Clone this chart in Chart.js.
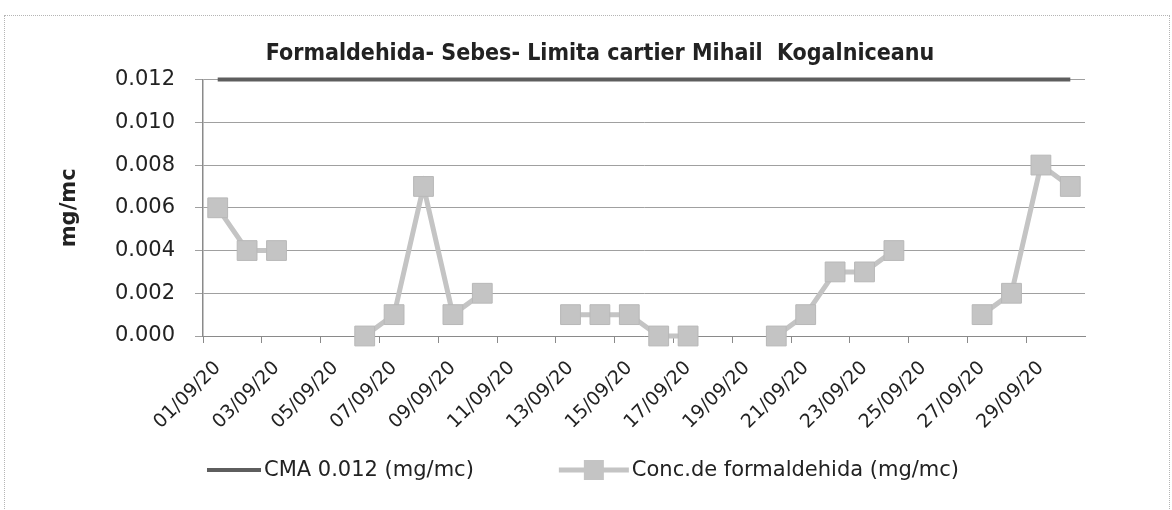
<!DOCTYPE html>
<html>
<head>
<meta charset="utf-8">
<script src="https://cdn.jsdelivr.net/npm/chart.js@4/dist/chart.umd.min.js"></script>
<style>
  html, body { margin: 0; padding: 0; background: #fff; }
  #wrap { position: relative; width: 1172px; height: 510px; }
  #frame { position: absolute; left: 4px; top: 15px; width: 1166px; height: 500px; border: 1px dotted #b5b5b5; box-sizing: border-box; }
  canvas { position: absolute; left: 0; top: 0; }
</style>
</head>
<body>
<div id="wrap">
  <div id="frame"></div>
  <canvas id="chart" width="1172" height="510"></canvas>
</div>
<script>
// --- DATA ---
const dates = [
    '01/09/20', '02/09/20', '03/09/20', '04/09/20', '05/09/20', '06/09/20',
    '07/09/20', '08/09/20', '09/09/20', '10/09/20', '11/09/20', '12/09/20',
    '13/09/20', '14/09/20', '15/09/20', '16/09/20', '17/09/20', '18/09/20',
    '19/09/20', '20/09/20', '21/09/20', '22/09/20', '23/09/20', '24/09/20',
    '25/09/20', '26/09/20', '27/09/20', '28/09/20', '29/09/20', '30/09/20'
];

const cmaValues = [
    0.012, 0.012, 0.012, 0.012, 0.012, 0.012, 0.012, 0.012, 0.012, 0.012,
    0.012, 0.012, 0.012, 0.012, 0.012, 0.012, 0.012, 0.012, 0.012, 0.012,
    0.012, 0.012, 0.012, 0.012, 0.012, 0.012, 0.012, 0.012, 0.012, 0.012
];

const concValues = [
    0.006, 0.004, 0.004, null, null, 0.000, 0.001, 0.007, 0.001, 0.002,
    null, null, 0.001, 0.001, 0.001, 0.000, 0.000, null, null, 0.000,
    0.001, 0.003, 0.003, 0.004, null, null, 0.001, 0.002, 0.008, 0.007
];

const yTicks = [0, 0.002, 0.004, 0.006, 0.008, 0.010, 0.012];

const chartTitle = 'Formaldehida- Sebes- Limita cartier Mihail  Kogalniceanu';
const yTitle = 'mg/mc';
const cmaLabel = 'CMA 0.012 (mg/mc)';
const concLabel = 'Conc.de formaldehida (mg/mc)';

// --- STYLE ---
const cmaColor = '#5e5e5e';
const concColor = '#c4c4c4';
const gridColor = '#a0a0a0';
const axisColor = '#8a8a8a';
const textColor = '#222222';
const baseFont = "'DejaVu Sans', sans-serif";
const narrowFont = "'Liberation Sans Narrow', 'DejaVu Sans Condensed', sans-serif";

// simple legend drawn under the axis labels (line swatch, optional square marker)
const bottomLegend = {
    id: 'bottomLegend',
    afterDraw(chart) {
        const g = chart.ctx;
        const y = 470;
        const gap = 3;
        const itemGap = 85;
        g.save();
        g.font = `21px ${baseFont}`;
        g.textBaseline = 'middle';
        g.textAlign = 'left';
        const items = chart.data.datasets.map(ds => ({
            text: ds.label,
            color: ds.borderColor,
            width: ds.borderWidth,
            marker: ds.pointRadius > 0,
            swatchW: ds.pointRadius > 0 ? 70 : 54
        }));
        const total = items.reduce((s, it) => s + it.swatchW + gap + g.measureText(it.text).width, 0) + itemGap * (items.length - 1);
        let x = 583 - total / 2;
        items.forEach(it => {
            g.fillStyle = it.color;
            g.fillRect(x, y - it.width / 2, it.swatchW, it.width);
            if (it.marker) {
                g.fillRect(x + it.swatchW / 2 - 10, y - 10, 20, 20);
            }
            x += it.swatchW + gap;
            g.fillStyle = textColor;
            g.fillText(it.text, x, y + 1);
            x += g.measureText(it.text).width + itemGap;
        });
        g.restore();
    }
};

const ctx = document.getElementById('chart');

new Chart(ctx, {
    type: 'line',
    data: {
        labels: dates,
        datasets: [
            {
                label: cmaLabel,
                data: cmaValues,
                borderColor: cmaColor,
                backgroundColor: cmaColor,
                borderWidth: 4,
                pointRadius: 0,
                pointHoverRadius: 0,
                clip: false
            },
            {
                label: concLabel,
                data: concValues,
                borderColor: concColor,
                backgroundColor: concColor,
                borderWidth: 5,
                pointStyle: 'rect',
                pointRadius: 14,
                pointHoverRadius: 14,
                pointBackgroundColor: concColor,
                pointBorderColor: '#b8b8b8',
                pointBorderWidth: 1,
                spanGaps: false,
                clip: false
            }
        ]
    },
    options: {
        responsive: false,
        animation: false,
        layout: { padding: { left: 28, right: 0, top: 0, bottom: 70 } },
        plugins: {
            title: {
                display: true,
                text: chartTitle,
                color: textColor,
                font: { family: narrowFont, size: 23, weight: 'bold' },
                padding: { top: 40, bottom: 12 }
            },
            legend: { display: false },
            tooltip: { enabled: false }
        },
        scales: {
            x: {
                offset: true,
                afterFit: (scale) => { scale.height = 104; },
                grid: {
                    offset: true,
                    drawOnChartArea: false,
                    drawTicks: true,
                    tickLength: 7,
                    color: (c) => (c.index % 2 === 0 ? axisColor : 'rgba(0,0,0,0)')
                },
                border: { color: axisColor, width: 1 },
                ticks: {
                    autoSkip: false,
                    maxRotation: 45,
                    minRotation: 45,
                    color: textColor,
                    font: { family: baseFont, size: 19 },
                    padding: 14,
                    callback: (val, idx) => (idx % 2 === 0 ? dates[idx] : '')
                }
            },
            y: {
                min: 0,
                max: 0.012,
                afterFit: (scale) => { scale.width = 175; },
                afterBuildTicks: (scale) => { scale.ticks = yTicks.map(v => ({ value: v })); },
                grid: { color: gridColor, lineWidth: 1, tickLength: 8 },
                border: { color: axisColor, width: 1.5 },
                ticks: {
                    color: textColor,
                    padding: 20,
                    font: { family: baseFont, size: 21 },
                    callback: (v) => v.toFixed(3)
                },
                title: {
                    display: true,
                    text: yTitle,
                    color: textColor,
                    font: { family: baseFont, size: 21, weight: 'bold' },
                    padding: { top: 29, bottom: 0 }
                }
            },
            // empty right-hand axis, only to keep the plot's right margin
            yRight: {
                position: 'right',
                display: true,
                afterFit: (scale) => { scale.width = 87; },
                grid: { drawOnChartArea: false, drawTicks: false },
                border: { display: false },
                ticks: { display: false }
            }
        }
    },
    plugins: [bottomLegend]
});
</script>
</body>
</html>
